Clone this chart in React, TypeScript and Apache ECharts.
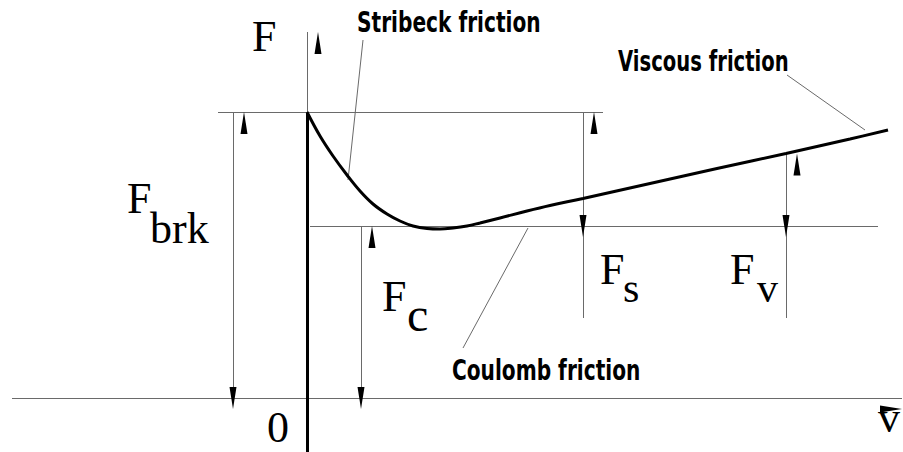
import React, { useEffect, useRef } from "react";
import * as echarts from "echarts";

// Friction curve (velocity v, friction force F), 1 unit = 100 px in the reference
const velocity = [0, 0.13, 0.26, 0.4, 0.53, 0.66, 0.8, 0.93, 1.06, 1.2, 1.33, 1.46, 1.6, 1.73, 1.93, 2.2, 2.43, 2.76, 3.43, 4.1, 4.79, 5.43, 5.81];
const friction = [2.86, 2.62, 2.42, 2.23, 2.07, 1.94, 1.84, 1.77, 1.72, 1.695, 1.69, 1.7, 1.72, 1.75, 1.8, 1.87, 1.925, 1.995, 2.145, 2.295, 2.445, 2.59, 2.68];

// Characteristic levels / positions
const F_BRK = 2.86; // breakaway friction
const F_C = 1.72; // Coulomb friction
const V_S = 2.76; // where F_s is marked
const V_V = 4.79; // where F_v is marked
const F_AT_VV = 2.445; // curve value at V_V
const V_BRK_DIM = -0.74;
const V_C_DIM = 0.54;

const annotationTexts = ["Stribeck friction", "Viscous friction", "Coulomb friction"];

const X_MIN = -3.07;
const X_MAX = 5.96;
const Y_MIN = -0.54;
const Y_MAX = 3.98;

const THIN = { color: "#6a6a6a", width: 1, type: "solid" as const };
const THICK = { color: "#000", width: 3, type: "solid" as const };
const CARRIER = { color: "#000", width: 0, type: "solid" as const };

type P = [number, number];
function seg(a: P, b: P, fromSym = "none", toSym = "none", style: any = THIN) {
  return [
    { coord: a, symbol: fromSym, lineStyle: style },
    { coord: b, symbol: toSym },
  ];
}

export default function App() {
  const ref = useRef<HTMLDivElement>(null);
  useEffect(() => {
    if (!ref.current) return;
    const chart = echarts.init(ref.current, undefined, { renderer: "svg" });
    const curve = velocity.map((v, i) => [v, friction[i]]);
    const serif = "'Liberation Serif', 'Times New Roman', serif";
    const narrow = "'DejaVu Sans', sans-serif";

    const lines = [
      seg([-2.95, 0], [X_MAX - 0.01, 0]),
      seg([0, F_BRK], [0, 3.66]),
      seg([0, Y_MIN], [0, F_BRK], "none", "none", THICK),
      seg([-0.89, F_BRK], [2.96, F_BRK]),
      seg([0.03, F_C], [5.71, F_C]),
      seg([V_BRK_DIM, 0], [V_BRK_DIM, F_BRK]),
      seg([V_C_DIM, 0], [V_C_DIM, F_C]),
      seg([V_S, 0.8], [V_S, F_BRK]),
      seg([V_V, 0.8], [V_V, F_AT_VV]),
      // leader lines
      seg([0.56, 3.58], [0.41, 2.18]),
      seg([4.8, 3.23], [5.58, 2.68]),
      seg([2.21, 1.7], [1.56, 0.5]),
    ];
    const arrows = [
      seg([-2.95, 0], [X_MAX - 0.01, 0], "none", "triangle", CARRIER),
      seg([0, F_BRK], [0, 3.66], "none", "triangle", CARRIER),
      seg([V_BRK_DIM, 0], [V_BRK_DIM, F_BRK], "triangle", "triangle", CARRIER),
      seg([V_C_DIM, 0], [V_C_DIM, F_C], "triangle", "triangle", CARRIER),
      seg([V_S, F_C], [V_S, F_BRK], "triangle", "triangle", CARRIER),
      seg([V_V, F_C], [V_V, F_AT_VV], "triangle", "triangle", CARRIER),
    ];

    const txt = (text: string, x: number, y: number, size: number, family: string, weight: any = "normal", scaleX = 1) => ({
      type: "text",
      x,
      y,
      scaleX,
      silent: true,
      style: {
        text,
        fill: "#000",
        fontSize: size,
        fontFamily: family,
        fontWeight: weight,
        align: "left",
        verticalAlign: "middle",
      },
    });

    const markLineBase = {
      silent: true,
      symbol: ["none", "none"],
      symbolSize: [7, 22],
      symbolOffset: [0, 11],
      label: { show: false },
      emphasis: { disabled: true },
    };

    chart.setOption({
      animation: false,
      backgroundColor: "#fff",
      grid: { left: 0, right: 0, top: 0, bottom: 0 },
      xAxis: { type: "value", min: X_MIN, max: X_MAX, show: false },
      yAxis: { type: "value", min: Y_MIN, max: Y_MAX, show: false },
      series: [
        {
          type: "line",
          data: [],
          silent: true,
          markLine: { ...markLineBase, lineStyle: THIN, data: lines },
        },
        {
          type: "line",
          data: curve,
          smooth: 0.4,
          symbol: "none",
          silent: true,
          lineStyle: { color: "#000", width: 3 },
          z: 5,
        },
        {
          type: "line",
          data: [],
          silent: true,
          z: 6,
          markLine: { ...markLineBase, lineStyle: CARRIER, data: arrows },
        },
      ],
      graphic: [
        txt("F", 252, 36, 44, serif),
        txt("0", 267, 427, 44, serif),
        txt("v", 878, 417, 44, serif),
        txt("F", 127, 198, 44, serif),
        txt("brk", 150, 228, 44, serif),
        txt("F", 382, 296, 44, serif),
        txt("c", 407, 314, 48, serif),
        txt("F", 600, 269, 44, serif),
        txt("s", 623, 288, 42, serif),
        txt("F", 730, 269, 44, serif),
        txt("v", 757, 288, 42, serif),
        txt(annotationTexts[0], 357, 22, 28, narrow, "bold", 0.72),
        txt(annotationTexts[1], 618, 62, 28, narrow, "bold", 0.7),
        txt(annotationTexts[2], 452, 370, 28, narrow, "bold", 0.72),
      ],
    });
    return () => chart.dispose();
  }, []);
  return (
    <div
      ref={ref}
      style={{ position: "absolute", left: 0, top: 0, width: 903, height: 452, background: "#fff" }}
    />
  );
}
